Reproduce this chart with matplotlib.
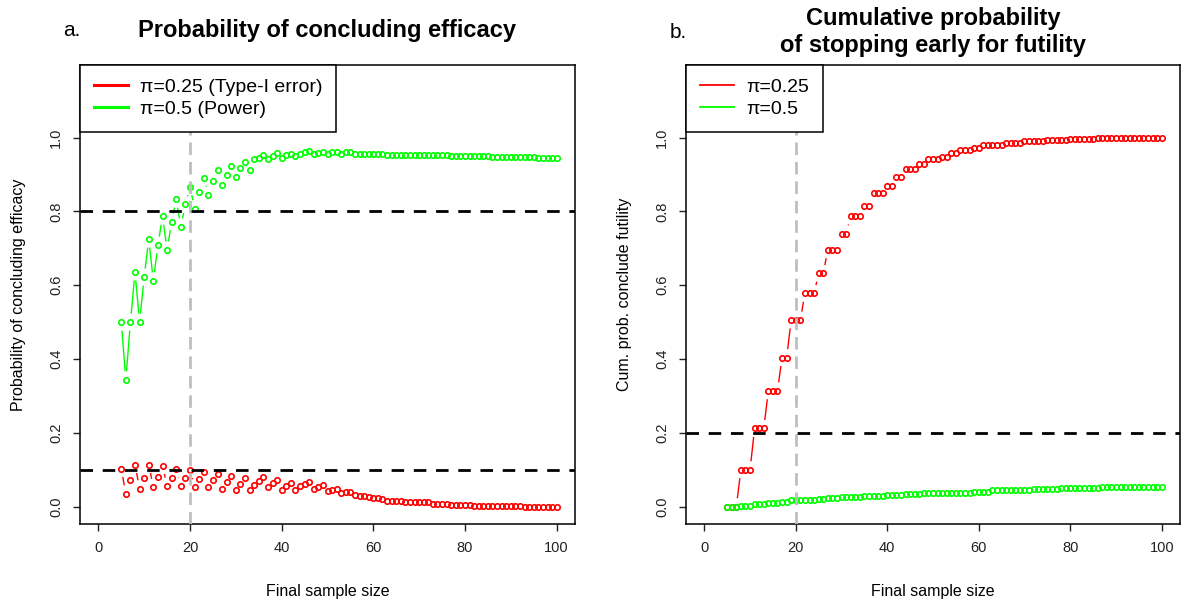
import numpy as np
import matplotlib
matplotlib.use('Agg')
import matplotlib.pyplot as plt
from matplotlib.collections import LineCollection

plt.rcParams['font.family'] = ['Liberation Sans', 'DejaVu Sans']

# final sample sizes
n = np.arange(5, 101)

# a. probability of concluding efficacy
power = [0.500, 0.344, 0.500, 0.636, 0.500, 0.622, 0.725, 0.612, 0.709, 0.787, 0.696, 0.772,
         0.833, 0.759, 0.819, 0.867, 0.808, 0.853, 0.891, 0.844, 0.883, 0.912, 0.873, 0.900,
         0.924, 0.894, 0.919, 0.935, 0.912, 0.942, 0.946, 0.952, 0.941, 0.950, 0.959, 0.944,
         0.952, 0.957, 0.950, 0.957, 0.961, 0.964, 0.957, 0.959, 0.960, 0.957, 0.960, 0.960,
         0.957, 0.960, 0.960, 0.957, 0.957, 0.957, 0.957, 0.957, 0.957, 0.957, 0.954, 0.954,
         0.954, 0.954, 0.954, 0.954, 0.954, 0.952, 0.952, 0.952, 0.952, 0.952, 0.952, 0.952,
         0.951, 0.951, 0.951, 0.951, 0.951, 0.951, 0.951, 0.951, 0.951, 0.949, 0.949, 0.949,
         0.949, 0.949, 0.949, 0.949, 0.949, 0.949, 0.949, 0.946, 0.946, 0.946, 0.946, 0.946]
type1 = [0.103, 0.035, 0.071, 0.114, 0.049, 0.078, 0.114, 0.053, 0.080, 0.111, 0.056, 0.078,
         0.101, 0.055, 0.077, 0.100, 0.052, 0.075, 0.095, 0.052, 0.071, 0.089, 0.048, 0.066,
         0.082, 0.046, 0.062, 0.077, 0.045, 0.058, 0.070, 0.081, 0.052, 0.063, 0.073, 0.046,
         0.057, 0.064, 0.045, 0.055, 0.062, 0.066, 0.048, 0.052, 0.060, 0.042, 0.046, 0.048,
         0.037, 0.039, 0.041, 0.031, 0.030, 0.030, 0.027, 0.024, 0.023, 0.021, 0.016, 0.016,
         0.014, 0.014, 0.012, 0.012, 0.012, 0.012, 0.012, 0.012, 0.008, 0.008, 0.008, 0.008,
         0.005, 0.005, 0.005, 0.005, 0.005, 0.002, 0.002, 0.002, 0.002, 0.002, 0.002, 0.002,
         0.002, 0.002, 0.002, 0.002, 0.000, 0.000, 0.000, 0.000, 0.000, 0.000, 0.000, 0.000]

# b. cumulative probability of stopping for futility
fut_025 = [0.000, 0.000, 0.000, 0.100, 0.100, 0.100, 0.212, 0.212, 0.212, 0.314, 0.314, 0.314,
           0.404, 0.404, 0.506, 0.506, 0.506, 0.578, 0.578, 0.578, 0.632, 0.632, 0.696, 0.696,
           0.696, 0.740, 0.740, 0.787, 0.787, 0.787, 0.816, 0.816, 0.849, 0.849, 0.849, 0.870,
           0.870, 0.893, 0.893, 0.914, 0.914, 0.914, 0.928, 0.928, 0.941, 0.941, 0.941, 0.948,
           0.948, 0.959, 0.959, 0.967, 0.967, 0.967, 0.973, 0.973, 0.979, 0.979, 0.979, 0.979,
           0.979, 0.986, 0.986, 0.986, 0.986, 0.990, 0.990, 0.990, 0.990, 0.990, 0.994, 0.994,
           0.994, 0.994, 0.994, 0.996, 0.996, 0.996, 0.996, 0.996, 0.996, 0.998, 0.998, 0.998,
           0.998, 0.998, 0.998, 0.998, 0.998, 0.998, 0.998, 0.998, 0.998, 0.998, 0.998, 0.998]
fut_05 = [0.000, 0.000, 0.000, 0.003, 0.003, 0.003, 0.006, 0.006, 0.006, 0.009, 0.009, 0.009,
          0.013, 0.013, 0.017, 0.017, 0.017, 0.019, 0.019, 0.019, 0.022, 0.022, 0.024, 0.024,
          0.024, 0.026, 0.026, 0.026, 0.026, 0.026, 0.029, 0.029, 0.029, 0.029, 0.029, 0.031,
          0.031, 0.031, 0.031, 0.034, 0.034, 0.034, 0.034, 0.036, 0.036, 0.036, 0.036, 0.036,
          0.038, 0.038, 0.038, 0.038, 0.038, 0.038, 0.041, 0.041, 0.041, 0.041, 0.044, 0.044,
          0.044, 0.044, 0.044, 0.044, 0.044, 0.044, 0.044, 0.047, 0.047, 0.047, 0.047, 0.047,
          0.047, 0.050, 0.050, 0.050, 0.050, 0.050, 0.050, 0.050, 0.050, 0.050, 0.052, 0.052,
          0.052, 0.052, 0.052, 0.052, 0.052, 0.052, 0.052, 0.052, 0.052, 0.052, 0.052, 0.052]

RED = '#FF0000'
GREEN = '#00FF00'
W, H = 1182, 603


def type_b(ax, x, y, col, gap=8.5):
    # R style type="b": points joined by lines that stop short of each point
    ax.plot(x, y, 'o', ls='none', mfc='none', mec=col, ms=3.9, mew=1.2, zorder=3)
    pts = ax.transData.transform(np.column_stack([x, y]))
    inv = ax.transData.inverted()
    segs = []
    for i in range(len(pts) - 1):
        d = pts[i + 1] - pts[i]
        L = np.hypot(d[0], d[1])
        if L <= 2 * gap:
            continue
        u = d / L
        segs.append(inv.transform(np.array([pts[i] + u * gap, pts[i + 1] - u * gap])))
    ax.add_collection(LineCollection(segs, colors=col, linewidths=1.0, zorder=3))


def setup(ax, ylab):
    ax.set_xlim(-4, 104)
    ax.set_ylim(-0.047, 1.197)
    ax.set_xticks([0, 20, 40, 60, 80, 100])
    ax.set_yticks([0.0, 0.2, 0.4, 0.6, 0.8, 1.0])
    ax.set_yticklabels(['0.0', '0.2', '0.4', '0.6', '0.8', '1.0'], rotation=90, va='center')
    ax.tick_params(direction='out', length=5, width=1, labelsize=10.5, pad=7, colors='#222222')
    for s in ax.spines.values():
        s.set_linewidth(1.1)
        s.set_color('black')
    ax.set_xlabel('Final sample size', fontsize=11.5, labelpad=21)
    ax.set_ylabel(ylab, fontsize=11.5, labelpad=17)


def add_legend(ax, labels, lw):
    hs = [plt.Line2D([], [], color=RED, lw=lw), plt.Line2D([], [], color=GREEN, lw=lw)]
    leg = ax.legend(hs, labels, loc='upper left', bbox_to_anchor=(0, 1), borderaxespad=0,
                    fancybox=False, edgecolor='black', framealpha=1, fontsize=14,
                    handlelength=1.75, handletextpad=0.65, borderpad=0.7, labelspacing=0.22)
    leg.get_frame().set_linewidth(1.1)
    leg.set_zorder(5)


fig = plt.figure(figsize=(W / 100, H / 100), dpi=100)
ax1 = fig.add_axes([80 / W, 79 / H, 495 / W, 459 / H])
ax2 = fig.add_axes([686 / W, 79 / H, 494 / W, 459 / H])

setup(ax1, 'Probability of concluding efficacy')
setup(ax2, 'Cum. prob. conclude futility')

type_b(ax1, n, type1, RED)
type_b(ax1, n, power, GREEN)
type_b(ax2, n, fut_025, RED)
type_b(ax2, n, fut_05, GREEN)

for ax, hl in [(ax1, [0.8, 0.1]), (ax2, [0.2])]:
    ax.axvline(20, color='#BEBEBE', lw=2, dashes=(4.5, 2.5), zorder=4)
    for h in hl:
        ax.axhline(h, color='black', lw=2, dashes=(4.5, 3.5), zorder=4)

add_legend(ax1, ['\u03c0=0.25 (Type-I error)', '\u03c0=0.5 (Power)'], 2.2)
add_legend(ax2, ['\u03c0=0.25', '\u03c0=0.5'], 1.3)

# titles
fig.text(327.5 / W, 1 - 31 / H, 'Probability of concluding efficacy', ha='center', va='center',
         fontsize=17, fontweight='bold')
fig.text(933 / W, 1 - 32 / H, 'Cumulative probability\nof stopping early for futility',
         ha='center', va='center', fontsize=17, fontweight='bold', linespacing=1.25)
fig.text(72 / W, 1 - 30 / H, 'a.', ha='center', va='center', fontsize=15)
fig.text(678 / W, 1 - 32 / H, 'b.', ha='center', va='center', fontsize=15)

fig.savefig('out.png', dpi=100)
